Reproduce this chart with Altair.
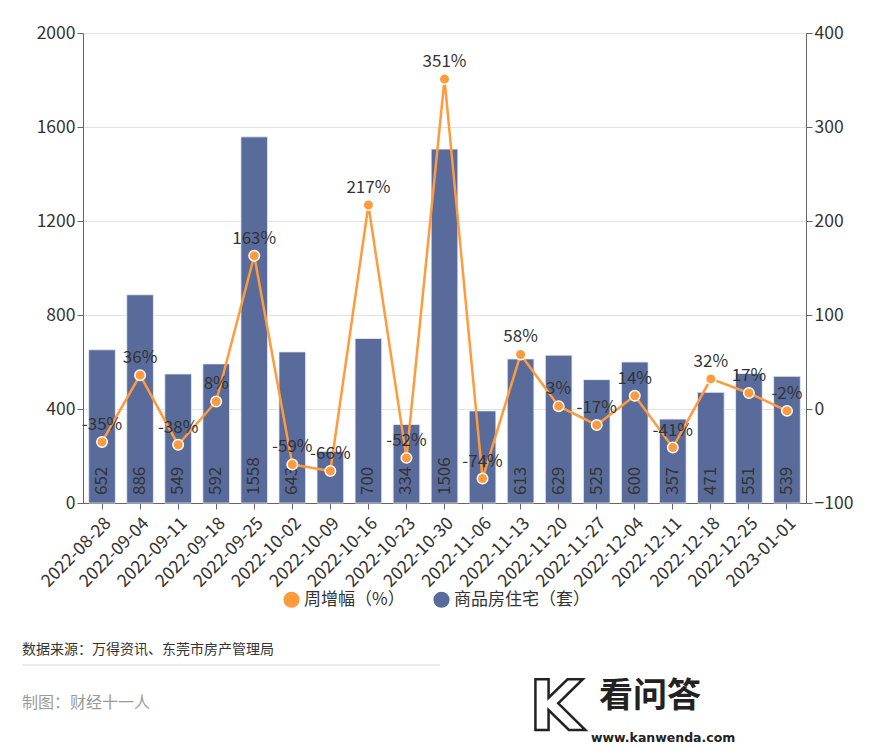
import altair as alt
import pandas as pd

weeks = ["2022-08-28", "2022-09-04", "2022-09-11", "2022-09-18", "2022-09-25",
         "2022-10-02", "2022-10-09", "2022-10-16", "2022-10-23", "2022-10-30",
         "2022-11-06", "2022-11-13", "2022-11-20", "2022-11-27", "2022-12-04",
         "2022-12-11", "2022-12-18", "2022-12-25", "2023-01-01"]
units = [652, 886, 549, 592, 1558, 643, 219, 700, 334, 1506,
         392, 613, 629, 525, 600, 357, 471, 551, 539]
growth = [-35, 36, -38, 8, 163, -59, -66, 217, -52, 351,
          -74, 58, 3, -17, 14, -41, 32, 17, -2]
hidden_bar_labels = ["2022-10-09", "2022-11-06"]

S_LINE = "周增幅（%）"
S_BAR = "商品房住宅（套）"
BAR_COLOR = "#586B9A"
LINE_COLOR = "#FF9A3D"
FONT = "Noto Sans CJK SC"
TXT = "#333333"

df = pd.DataFrame({"week": weeks, "units": units, "growth": growth})
df["bar_series"] = S_BAR
df["line_series"] = S_LINE
df["glabel"] = [f"{g}%" for g in growth]
df["show_bar_label"] = [w not in hidden_bar_labels for w in weeks]

W, H = 723, 470

x_enc = alt.X("week:N", sort=weeks, title=None,
              scale=alt.Scale(paddingInner=0.3, paddingOuter=0.15),
              axis=alt.Axis(labelAngle=-45, labelAlign="right", labelBaseline="top",
                            labelFontSize=17.5, labelColor=TXT, labelFont=FONT,
                            domainColor="#666666", tickColor="#666666", tickSize=6,
                            labelPadding=5, grid=False))

color_scale = alt.Scale(domain=[S_LINE, S_BAR], range=[LINE_COLOR, BAR_COLOR])

base = alt.Chart(df)

y_left = alt.Scale(domain=[0, 2000])
bars = base.mark_bar(stroke="#E8ECF4", strokeWidth=1, strokeOpacity=0.8).encode(
    x=x_enc,
    y=alt.Y("units:Q", scale=y_left, title=None,
            axis=alt.Axis(values=[0, 400, 800, 1200, 1600, 2000], format="d",
                          labelFontSize=17.5, labelColor=TXT, labelFont=FONT,
                          domainColor="#666666", tickColor="#666666", tickSize=6,
                          gridColor="#E3E3E3", labelPadding=2)),
    color=alt.Color("bar_series:N", scale=color_scale, title=None,
                    legend=alt.Legend(orient="none", legendX=200, legendY=558,
                                      direction="horizontal", symbolType="circle",
                                      symbolSize=260, labelFontSize=17, labelFont=FONT,
                                      labelColor=TXT, columnPadding=28,
                                      symbolStrokeWidth=0)),
)
bar_labels = base.transform_filter("datum.show_bar_label").mark_text(
    angle=270, align="left", baseline="middle", dx=8, fontSize=17, font=FONT,
    color=TXT).encode(
    x=alt.X("week:N", sort=weeks),
    y=alt.Y(datum=0, scale=y_left),
    text="units:Q",
)
left = alt.layer(bars, bar_labels)

y_right = alt.Scale(domain=[-100, 400])
line = base.mark_line(strokeWidth=2.5).encode(
    x=alt.X("week:N", sort=weeks),
    y=alt.Y("growth:Q", scale=y_right, title=None,
            axis=alt.Axis(orient="right", values=[-100, 0, 100, 200, 300, 400],
                          format="d", labelFontSize=17.5, labelColor=TXT,
                          labelFont=FONT, domainColor="#666666", tickColor="#666666",
                          tickSize=6, grid=False, labelPadding=2)),
    color=alt.Color("line_series:N", scale=color_scale, legend=None),
)
points = base.mark_point(filled=True, size=110, stroke="white", strokeWidth=1.5,
                         opacity=1).encode(
    x=alt.X("week:N", sort=weeks),
    y=alt.Y("growth:Q", scale=y_right),
    fill=alt.value(LINE_COLOR),
)
line_labels = base.mark_text(baseline="middle", align="center", dy=-17, fontSize=17,
                             font=FONT, color=TXT).encode(
    x=alt.X("week:N", sort=weeks),
    y=alt.Y("growth:Q", scale=y_right),
    text="glabel:N",
)
right = alt.layer(line, points, line_labels)

main = alt.layer(left, right).resolve_scale(y="independent")

# footer
foot = pd.DataFrame({"a": [0]})
src = alt.Chart(foot).mark_text(align="left", baseline="middle", fontSize=14,
                                font=FONT, color=TXT).encode(
    x=alt.value(-61), y=alt.value(617), text=alt.value("数据来源：万得资讯、东莞市房产管理局"))
sep = alt.Chart(foot).mark_rule(color="#D9D9D9", strokeWidth=1).encode(
    x=alt.value(-61), x2=alt.value(357), y=alt.value(632))
maker = alt.Chart(foot).mark_text(align="left", baseline="middle", fontSize=16,
                                  font=FONT, color="#9A9A9A").encode(
    x=alt.value(-61), y=alt.value(670), text=alt.value("制图：财经十一人"))
wm_k = alt.Chart(foot).mark_text(align="center", baseline="middle", fontSize=70,
                                 font="DejaVu Sans", fontWeight="bold", fill="white",
                                 stroke="#222222", strokeWidth=2.5).encode(
    x=alt.value(473), y=alt.value(676), text=alt.value("K"))
wm_t = alt.Chart(foot).mark_text(align="left", baseline="middle", fontSize=34,
                                 font=FONT, fontWeight="bold", color="#222222").encode(
    x=alt.value(516), y=alt.value(664), text=alt.value("看问答"))
wm_u = alt.Chart(foot).mark_text(align="left", baseline="middle", fontSize=12.5,
                                 font="DejaVu Sans", fontWeight="bold", color="#222222").encode(
    x=alt.value(508), y=alt.value(705), text=alt.value("www.kanwenda.com"))

chart = alt.layer(main, src, sep, maker, wm_k, wm_t, wm_u).properties(
    width=W, height=H,
    autosize=alt.AutoSizeParams(type="none"),
    padding={"left": 83, "top": 33, "right": 67, "bottom": 245},
).configure_view(stroke=None).configure(background="white")

chart.save("out.html", embed_options={"renderer": "svg", "actions": False})
